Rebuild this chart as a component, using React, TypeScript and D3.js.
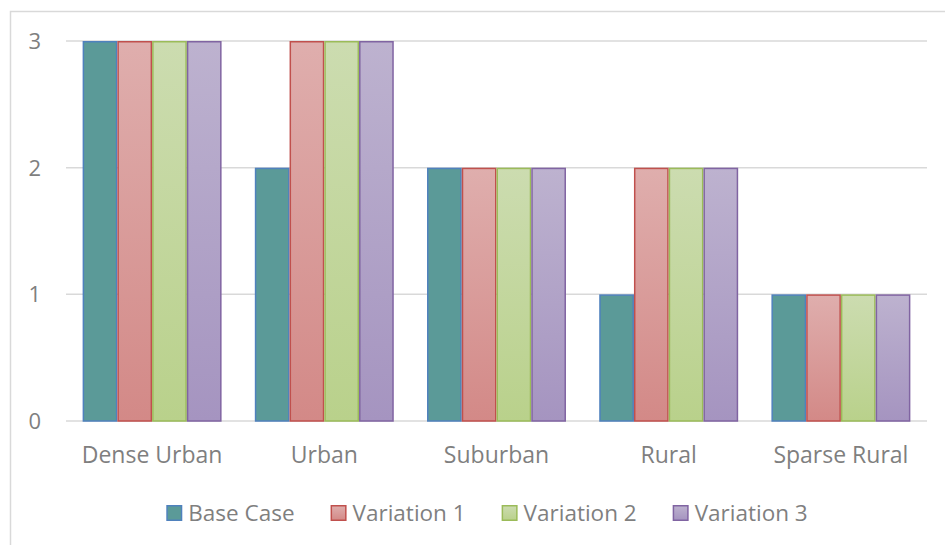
import React, { useEffect, useRef } from "react";
import * as d3 from "d3";

const categories = ["Dense Urban", "Urban", "Suburban", "Rural", "Sparse Rural"];
const seriesNames = ["Base Case", "Variation 1", "Variation 2", "Variation 3"];
const baseCase = [3, 2, 2, 1, 1];
const variation1 = [3, 3, 2, 2, 1];
const variation2 = [3, 3, 2, 2, 1];
const variation3 = [3, 3, 2, 2, 1];
const yTicks = [0, 1, 2, 3];

const seriesValues = [baseCase, variation1, variation2, variation3];

// top colour, bottom colour, border
const styles = [
  { top: "#5B9A98", bottom: "#5B9A98", stroke: "#4F81BD" },
  { top: "#DFAEAD", bottom: "#D38987", stroke: "#C0504D" },
  { top: "#CCDCB0", bottom: "#B9D18B", stroke: "#9BBB59" },
  { top: "#BDB2CF", bottom: "#A594C0", stroke: "#8064A2" },
];

const App = () => {
  const ref = useRef<SVGSVGElement>(null);

  useEffect(() => {
    const width = 945;
    const height = 545;
    const margin = { left: 66, right: 18, top: 41, bottom: 124 };
    const font = "'Open Sans', sans-serif";
    const textColor = "#7F7F7F";

    const svg = d3.select(ref.current);
    svg.selectAll("*").remove();

    const defs = svg.append("defs");
    styles.forEach((s, i) => {
      const g = defs
        .append("linearGradient")
        .attr("id", `grad${i}`)
        .attr("x1", 0)
        .attr("y1", 0)
        .attr("x2", 0)
        .attr("y2", 1);
      g.append("stop").attr("offset", "0%").attr("stop-color", s.top);
      g.append("stop").attr("offset", "100%").attr("stop-color", s.bottom);
    });

    // chart frame
    svg
      .append("rect")
      .attr("x", 10.5)
      .attr("y", 11.5)
      .attr("width", 960)
      .attr("height", 560)
      .attr("fill", "#fff")
      .attr("stroke", "#D9D9D9")
      .attr("stroke-width", 1.5);

    const x = d3
      .scaleBand()
      .domain(categories)
      .range([margin.left, width - margin.right])
      .paddingInner(0.193)
      .paddingOuter(0.0965);

    const x1 = d3.scaleBand().domain(seriesNames).range([0, x.bandwidth()]);

    const y = d3
      .scaleLinear()
      .domain([0, 3])
      .range([height - margin.bottom, margin.top]);

    // gridlines
    svg
      .append("g")
      .selectAll("line")
      .data(yTicks)
      .join("line")
      .attr("x1", margin.left)
      .attr("x2", width - margin.right)
      .attr("y1", (d) => y(d))
      .attr("y2", (d) => y(d))
      .attr("stroke", "#D9D9D9")
      .attr("stroke-width", 1.5);

    // bars
    const groups = svg
      .append("g")
      .selectAll("g")
      .data(categories)
      .join("g")
      .attr("transform", (c) => `translate(${x(c)},0)`);

    groups
      .selectAll("rect")
      .data((c, ci) => seriesNames.map((s, si) => ({ s, si, v: seriesValues[si][ci] })))
      .join("rect")
      .attr("x", (d) => x1(d.s)! + 0.75)
      .attr("width", x1.bandwidth() - 1.5)
      .attr("y", (d) => y(d.v) + 0.75)
      .attr("height", (d) => y(0) - y(d.v) - 0.75)
      .attr("fill", (d) => `url(#grad${d.si})`)
      .attr("stroke", (d) => styles[d.si].stroke)
      .attr("stroke-width", 1.5);

    // y tick labels
    svg
      .append("g")
      .selectAll("text")
      .data(yTicks)
      .join("text")
      .attr("x", 41)
      .attr("y", (d) => y(d))
      .attr("dy", "0.36em")
      .attr("text-anchor", "end")
      .attr("fill", textColor)
      .style("font-family", font)
      .style("font-size", "22px")
      .text((d) => d);

    // category labels
    svg
      .append("g")
      .selectAll("text")
      .data(categories)
      .join("text")
      .attr("x", (c) => x(c)! + x.bandwidth() / 2)
      .attr("y", 463)
      .attr("text-anchor", "middle")
      .attr("fill", textColor)
      .style("font-family", font)
      .style("font-size", "23px")
      .text((c) => c);

    // legend
    const legend = svg.append("g");
    const items = legend
      .selectAll("g")
      .data(seriesNames)
      .join("g");
    items
      .append("rect")
      .attr("x", 0.75)
      .attr("y", 505.75)
      .attr("width", 14.5)
      .attr("height", 14.5)
      .attr("fill", (d, i) => `url(#grad${i})`)
      .attr("stroke", (d, i) => styles[i].stroke)
      .attr("stroke-width", 1.5);
    const labels = items
      .append("text")
      .attr("x", 22)
      .attr("y", 521)
      .attr("fill", textColor)
      .style("font-family", font)
      .style("font-size", "22.5px")
      .text((d) => d);

    const widths: number[] = [];
    labels.each(function () {
      widths.push((this as SVGTextElement).getComputedTextLength());
    });
    const gap = 36;
    const itemW = widths.map((w) => 22 + w);
    const total = d3.sum(itemW) + gap * (itemW.length - 1);
    let cx = 487 - total / 2;
    items.attr("transform", (d, i) => {
      const t = `translate(${cx},0)`;
      cx += itemW[i] + gap;
      return t;
    });
  }, []);

  return <svg ref={ref} width={945} height={545} style={{ display: "block", position: "absolute", left: 0, top: 0 }} />;
};

export default App;
